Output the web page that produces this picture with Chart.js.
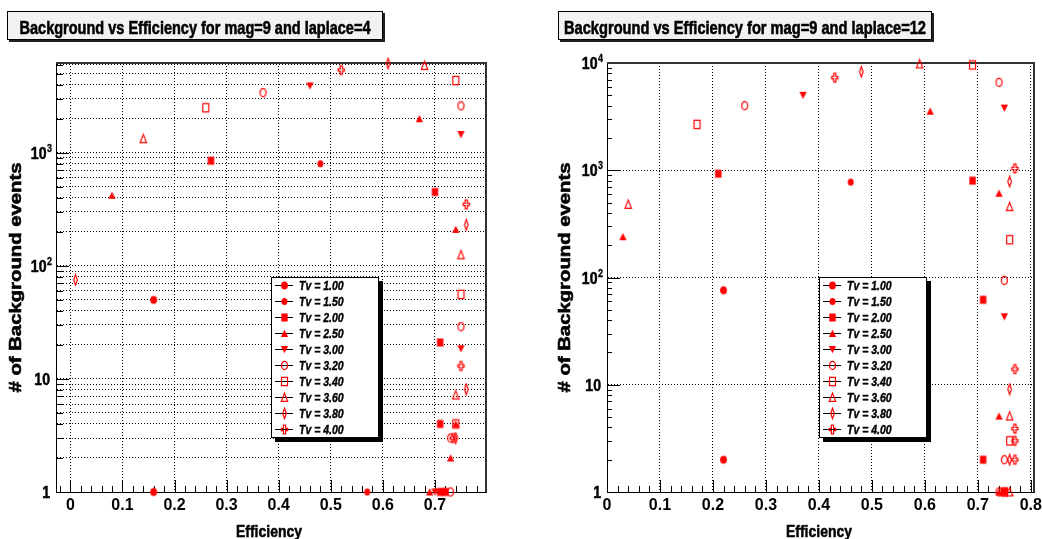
<!DOCTYPE html>
<html>
<head>
<meta charset="utf-8">
<title>Background vs Efficiency</title>
<script src="https://cdn.jsdelivr.net/npm/chart.js@4.4.1/dist/chart.umd.min.js"></script>
<style>
  body { margin: 0; background: #fff; }
  .panel { position: absolute; top: 0; }
</style>
</head>
<body>
<canvas id="lap4" class="panel" width="521" height="539" style="left:0"></canvas>
<canvas id="lap12" class="panel" width="521" height="539" style="left:521px"></canvas>
<script>
const tvLabels = ['Tv = 1.00', 'Tv = 1.50', 'Tv = 2.00', 'Tv = 2.50', 'Tv = 3.00',
                  'Tv = 3.20', 'Tv = 3.40', 'Tv = 3.60', 'Tv = 3.80', 'Tv = 4.00'];
const markerKinds = ['disc', 'discSmall', 'square', 'triUp', 'triDown', 'ring', 'box', 'triOpen', 'diamond', 'cross'];

// mag=9, laplace=4 : efficiency and # background per Tv
const lap4Eff = [
  [0.16, 0.16],
  [0.48, 0.57, 0.57],
  [0.27, 0.70, 0.71, 0.71, 0.71, 0.72],
  [0.08, 0.67, 0.74, 0.74, 0.73, 0.69],
  [0.46, 0.75, 0.75, 0.70, 0.715],
  [0.37, 0.75, 0.75, 0.73, 0.73],
  [0.26, 0.74, 0.75, 0.74],
  [0.14, 0.68, 0.75, 0.74],
  [0.01, 0.61, 0.76, 0.76, 0.74],
  [0.52, 0.76, 0.75, 0.735]
];
const lap4Bkg = [
  [50, 1],
  [800, 44, 1],
  [850, 450, 21, 4, 1, 1],
  [420, 2000, 210, 4, 2, 1],
  [3900, 1450, 18.5, 1, 1],
  [3400, 2600, 29, 3, 1],
  [2500, 4350, 56, 4],
  [1330, 5900, 125, 7.2],
  [75, 6150, 230, 8.1, 3],
  [5400, 350, 13, 3]
];

// mag=9, laplace=12
const lap12Eff = [
  [0.22, 0.22],
  [0.46, 0.60, 0.59],
  [0.21, 0.69, 0.71, 0.71, 0.75],
  [0.03, 0.61, 0.74, 0.74, 0.74],
  [0.37, 0.75, 0.75, 0.75],
  [0.26, 0.74, 0.75, 0.75, 0.74],
  [0.17, 0.69, 0.76, 0.76, 0.75],
  [0.04, 0.59, 0.76, 0.76, 0.76],
  [0.48, 0.76, 0.76, 0.76],
  [0.43, 0.77, 0.77, 0.77, 0.77, 0.77]
];
const lap12Bkg = [
  [76, 2],
  [775, 75, 7],
  [930, 800, 62, 2, 1],
  [240, 3550, 610, 5.1, 1],
  [5000, 3800, 43, 1],
  [4000, 6600, 94, 2, 1],
  [2680, 9600, 225, 3, 1],
  [480, 9800, 457, 5.1, 1],
  [8270, 785, 9.1, 2],
  [7300, 1040, 14, 3.9, 3, 2]
];

const xTicks4 = [0, 0.1, 0.2, 0.3, 0.4, 0.5, 0.6, 0.7];
const xTicks12 = [0, 0.1, 0.2, 0.3, 0.4, 0.5, 0.6, 0.7, 0.8];
const yTicks4 = [1, 2, 3, 4, 5, 6, 7, 8, 9, 10, 20, 30, 40, 50, 60, 70, 80, 90,
                 100, 200, 300, 400, 500, 600, 700, 800, 900, 1000, 2000, 3000, 4000, 5000, 6000];
const yTicks12 = [1, 2, 3, 4, 5, 6, 7, 8, 9, 10, 20, 30, 40, 50, 60, 70, 80, 90,
                  100, 200, 300, 400, 500, 600, 700, 800, 900, 1000, 2000, 3000, 4000, 5000,
                  6000, 7000, 8000, 9000, 10000];
const xTitle = 'Efficiency';
const yTitle = '# of Background events';

const FONT = '"Liberation Sans", Arial, Helvetica, sans-serif';
const RED = '#ff0000';

const isDecade = v => Math.abs(Math.log10(v) - Math.round(Math.log10(v))) < 1e-9;

// ROOT style markers (the picture is a bit stretched vertically)
function markerImage(kind) {
  const c = document.createElement('canvas');
  c.width = 11; c.height = 13;
  const g = c.getContext('2d');
  const cx = 5.5, cy = 6.5;
  g.fillStyle = RED; g.strokeStyle = RED; g.lineWidth = 1.2;
  g.beginPath();
  if (kind === 'disc') { g.ellipse(cx, cy, 3.4, 4, 0, 0, Math.PI * 2); g.fill(); }
  else if (kind === 'discSmall') { g.ellipse(cx, cy, 3, 3.6, 0, 0, Math.PI * 2); g.fill(); }
  else if (kind === 'square') { g.rect(cx - 3.2, cy - 4, 6.4, 8); g.fill(); }
  else if (kind === 'triUp') { g.moveTo(cx, cy - 3.8); g.lineTo(cx + 3.6, cy + 3.4); g.lineTo(cx - 3.6, cy + 3.4); g.closePath(); g.fill(); }
  else if (kind === 'triDown') { g.moveTo(cx, cy + 3.8); g.lineTo(cx + 3.6, cy - 3.4); g.lineTo(cx - 3.6, cy - 3.4); g.closePath(); g.fill(); }
  else if (kind === 'ring') { g.ellipse(cx, cy, 3, 4.2, 0, 0, Math.PI * 2); g.stroke(); }
  else if (kind === 'box') { g.rect(cx - 3, cy - 4.2, 6, 8.4); g.stroke(); }
  else if (kind === 'triOpen') { g.moveTo(cx, cy - 4.4); g.lineTo(cx + 3.2, cy + 3.8); g.lineTo(cx - 3.2, cy + 3.8); g.closePath(); g.stroke(); }
  else if (kind === 'diamond') { g.moveTo(cx, cy - 5.2); g.lineTo(cx + 1.8, cy); g.lineTo(cx, cy + 5.2); g.lineTo(cx - 1.8, cy); g.closePath(); g.stroke(); }
  else if (kind === 'cross') {
    const a = 1.1, w = 3.1, h = 4.3;
    const pts = [[-a, -h], [a, -h], [a, -a], [w, -a], [w, a], [a, a], [a, h], [-a, h], [-a, a], [-w, a], [-w, -a], [-a, -a]];
    pts.forEach(([px, py], i) => i ? g.lineTo(cx + px, cy + py) : g.moveTo(cx + px, cy + py));
    g.closePath(); g.stroke();
  }
  return c;
}
const markerImgs = markerKinds.map(markerImage);

// text squeezed/stretched horizontally, with a thin outline to look heavier
function scaledText(ctx, text, x, y, font, sx, align, heavy) {
  ctx.save();
  ctx.font = font + ' ' + FONT;
  ctx.translate(x, y);
  ctx.scale(sx, 1);
  ctx.textAlign = align;
  ctx.fillText(text, 0, 0);
  if (heavy) {
    ctx.lineWidth = heavy;
    ctx.strokeStyle = ctx.fillStyle;
    ctx.strokeText(text, 0, 0);
  }
  ctx.restore();
}
function fitText(ctx, text, x, y, font, width, align, heavy) {
  ctx.save();
  ctx.font = font + ' ' + FONT;
  const sx = width / ctx.measureText(text).width;
  ctx.restore();
  scaledText(ctx, text, x, y, font, sx, align, heavy);
}

const rootPlugin = {
  id: 'rootLook',
  beforeDatasetsDraw(chart, args, o) {
    const {ctx, chartArea: a, scales: {x, y}} = chart;
    ctx.save();
    ctx.strokeStyle = '#000';
    ctx.lineWidth = 1;
    ctx.beginPath();
    // ticks drawn inside the frame like ROOT
    for (let k = Math.ceil(x.min / 0.02 - 1e-6); k * 0.02 <= x.max + 1e-9; k++) {
      const px = Math.round(x.getPixelForValue(k * 0.02)) + 0.5;
      const len = k % 5 === 0 ? 12 : 6;
      ctx.moveTo(px, a.bottom); ctx.lineTo(px, a.bottom - len);
    }
    y.ticks.forEach(t => {
      const py = Math.round(y.getPixelForValue(t.value)) + 0.5;
      const len = isDecade(t.value) ? 13 : o.yMinorLen;
      ctx.moveTo(a.left, py); ctx.lineTo(a.left + len, py);
    });
    ctx.stroke();
    ctx.strokeStyle = '#333';
    ctx.lineWidth = 2;
    ctx.beginPath();
    ctx.moveTo(a.left, a.top); ctx.lineTo(a.right, a.top); ctx.lineTo(a.right, a.bottom);
    ctx.stroke();
    ctx.restore();
  },
  afterDraw(chart, args, o) {
    const {ctx, chartArea: a, scales: {y}} = chart;
    ctx.save();

    // title box
    const [bx, by, bw, bh] = o.titleBox;
    ctx.fillStyle = '#222';
    ctx.fillRect(bx + 2, by + 2, bw, bh);
    ctx.fillStyle = '#f2f2f2';
    ctx.fillRect(bx, by, bw, bh);
    ctx.strokeStyle = '#000';
    ctx.lineWidth = 1;
    ctx.strokeRect(bx + 0.5, by + 0.5, bw - 1, bh - 1);
    ctx.fillStyle = '#000';
    fitText(ctx, o.title, bx + bw / 2, by + 22.5, 'bold 19px', o.titleWidth, 'center', 0.6);

    // y labels 1, 10, 10^2 ...
    for (let e = 0; Math.pow(10, e) <= y.max * 1.0001; e++) {
      const py = y.getPixelForValue(Math.pow(10, e));
      if (e < 2) {
        scaledText(ctx, e === 0 ? '1' : '10', a.left - 6, py + 6, 'bold 16px', 0.88, 'right', 0.5);
      } else {
        const rx = a.left - 4;
        ctx.font = 'bold 10px ' + FONT;
        const ew = ctx.measureText(String(e)).width * 0.9;
        scaledText(ctx, String(e), rx, py - 1, 'bold 10px', 0.9, 'right', 0.3);
        scaledText(ctx, '10', rx - ew - 0.5, py + 6, 'bold 16px', 0.88, 'right', 0.5);
      }
    }

    // axis titles
    fitText(ctx, xTitle, o.xTitleX, 537, 'bold 16px', 66, 'center', 0.5);
    ctx.save();
    ctx.translate(o.yTitleX, (a.top + a.bottom) / 2);
    ctx.rotate(-Math.PI / 2);
    fitText(ctx, yTitle, 0, 0, 'bold 16.5px', 230, 'center', 0.6);
    ctx.restore();

    // legend
    const [lx, ly, lw, lh] = o.legendBox;
    ctx.fillStyle = '#000';
    ctx.fillRect(lx + 4, ly + 4, lw, lh);
    ctx.fillStyle = '#fff';
    ctx.fillRect(lx, ly, lw, lh);
    ctx.strokeStyle = '#000';
    ctx.strokeRect(lx + 0.5, ly + 0.5, lw - 1, lh - 1);
    chart.data.datasets.forEach((ds, i) => {
      const cy = ly + 8 + 16 * i;
      ctx.strokeStyle = '#000';
      ctx.lineWidth = 1;
      ctx.beginPath();
      ctx.moveTo(lx + 4, Math.round(cy) + 0.5);
      ctx.lineTo(lx + 22, Math.round(cy) + 0.5);
      ctx.stroke();
      const img = ds.pointStyle;
      ctx.drawImage(img, lx + 13.5 - img.width / 2, cy + 0.5 - img.height / 2);
      ctx.fillStyle = '#000';
      scaledText(ctx, ds.label, lx + 28, cy + 5, 'italic bold 12.5px', 0.84, 'left', 0.4);
    });
    ctx.restore();
  }
};

function buildChart(id, effs, bkgs, look) {
  const datasets = tvLabels.map((label, i) => ({
    label,
    data: effs[i].map((e, j) => ({x: e, y: bkgs[i][j]})),
    pointStyle: markerImgs[i],
    pointRadius: 5,
    pointHoverRadius: 5,
    clip: false
  }));
  const tickFont = {family: FONT, size: 16, weight: 'bold'};
  return new Chart(document.getElementById(id), {
    type: 'scatter',
    data: {datasets},
    options: {
      responsive: false,
      animation: false,
      events: [],
      layout: {padding: {left: 0, top: look.area.top, right: 521 - look.area.right, bottom: 0}},
      plugins: {legend: {display: false}, tooltip: {enabled: false}, rootLook: look},
      scales: {
        x: {
          type: 'linear',
          min: look.xMin,
          max: look.xMax,
          afterBuildTicks: s => { s.ticks = look.xTicks.map(v => ({value: v})); },
          afterFit: s => { s.height = 539 - look.area.bottom; s.paddingLeft = 0; s.paddingRight = 0; },
          ticks: {autoSkip: false, maxRotation: 0, padding: 4, color: '#000', font: tickFont,
                  callback: v => v === 0 ? '0' : v.toFixed(1)},
          grid: {color: '#000', lineWidth: 1, drawTicks: false},
          border: {display: true, color: '#000', width: 1, dash: [1, 2]}
        },
        y: {
          type: 'logarithmic',
          min: 1,
          max: look.yMax,
          afterBuildTicks: s => { s.ticks = look.yTicks.map(v => ({value: v})); },
          afterFit: s => { s.width = look.area.left; s.paddingTop = 0; s.paddingBottom = 0; },
          ticks: {display: false},
          grid: {
            drawTicks: false,
            lineWidth: 1,
            color: c => (c.tick && (look.minorGrid || isDecade(c.tick.value))) ? '#000' : 'rgba(0,0,0,0)'
          },
          border: {display: true, color: '#000', width: 1, dash: [1, 2]}
        }
      }
    },
    plugins: [rootPlugin]
  });
}

buildChart('lap4', lap4Eff, lap4Bkg, {
  area: {left: 56, top: 63, right: 486, bottom: 492},
  xMin: -0.0275, xMax: 0.798, yMax: 6220,
  xTicks: xTicks4, yTicks: yTicks4, minorGrid: true, yMinorLen: 7,
  title: 'Background vs Efficiency for mag=9 and laplace=4',
  titleBox: [7, 11, 376, 29], titleWidth: 351,
  legendBox: [271, 277, 108, 161],
  xTitleX: 269, yTitleX: 21
});

buildChart('lap12', lap12Eff, lap12Bkg, {
  area: {left: 86, top: 63, right: 513, bottom: 492},
  xMin: 0, xMax: 0.806, yMax: 10000,
  xTicks: xTicks12, yTicks: yTicks12, minorGrid: false, yMinorLen: 5,
  title: 'Background vs Efficiency for mag=9 and laplace=12',
  titleBox: [37, 11, 374, 29], titleWidth: 362,
  legendBox: [298, 277, 108, 161],
  xTitleX: 298, yTitleX: 49
});
</script>
</body>
</html>
